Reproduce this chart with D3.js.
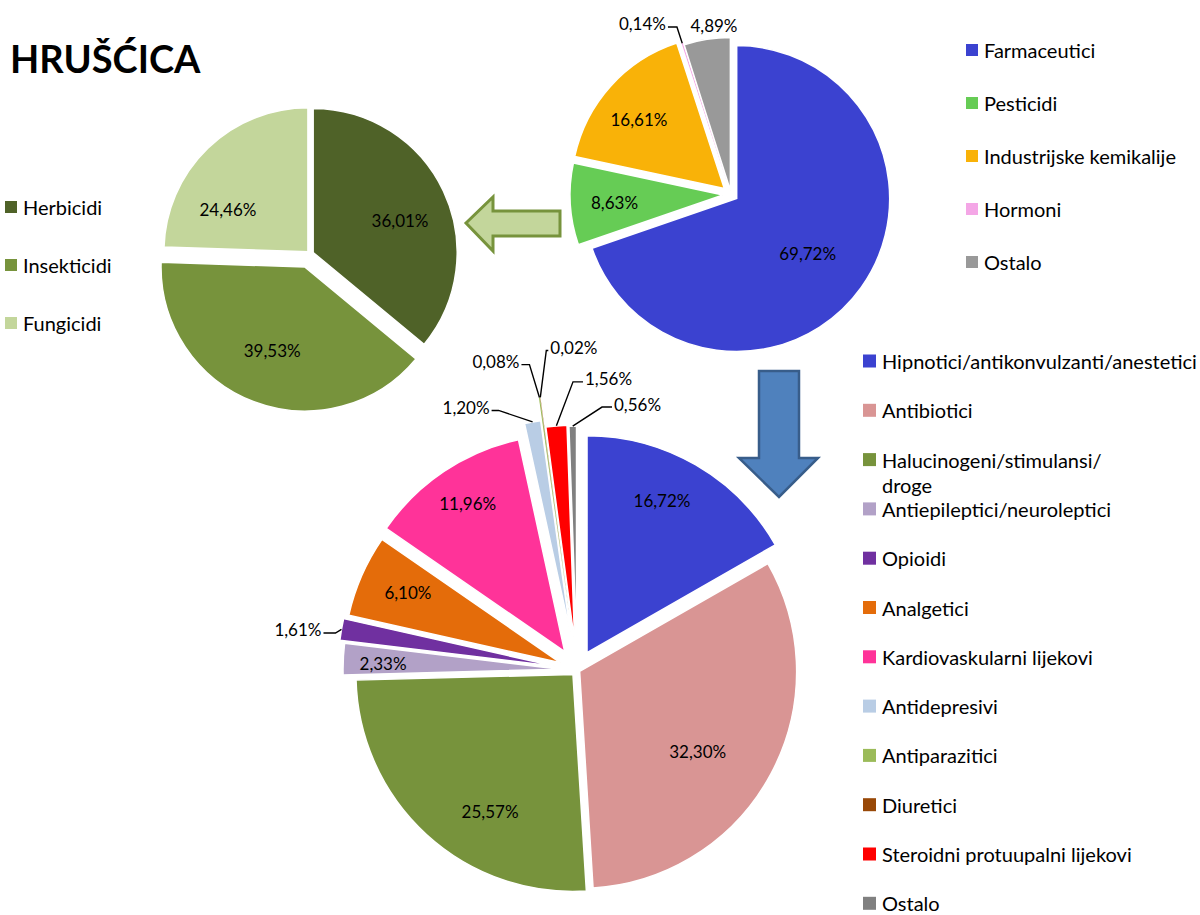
<!DOCTYPE html>
<html><head><meta charset="utf-8">
<script src="https://cdn.jsdelivr.net/npm/d3@7"></script>
<style>
body{margin:0;background:#fff}
svg{display:block}
text{font-family:Lato,"Open Sans",sans-serif;fill:#000}
</style>
</head><body>
<svg id="c" width="1200" height="915"></svg>
<script>
// ---------- DATA ----------
const chartTitle = "HRUŠĆICA";

const topCategories = ["Farmaceutici", "Pesticidi", "Industrijske kemikalije", "Hormoni", "Ostalo"];
const topValues = [69.72, 8.63, 16.61, 0.14, 4.89];
const topColors = ["#3B42D0", "#66CC55", "#F9B208", "#F4A6E6", "#999999"];

const pestCategories = ["Herbicidi", "Insekticidi", "Fungicidi"];
const pestValues = [36.01, 39.53, 24.46];
const pestColors = ["#4F6228", "#77933C", "#C3D69B"];

const pharmaCategories = ["Hipnotici/antikonvulzanti/anestetici", "Antibiotici", "Halucinogeni/stimulansi/\ndroge",
  "Antiepileptici/neuroleptici", "Opioidi", "Analgetici", "Kardiovaskularni lijekovi", "Antidepresivi",
  "Antiparazitici", "Diuretici", "Steroidni protuupalni lijekovi", "Ostalo"];
const pharmaValues = [16.72, 32.30, 25.57, 2.33, 1.61, 6.10, 11.96, 1.20, 0.08, 0.02, 1.56, 0.56];
const pharmaColors = ["#3B42D0", "#D99594", "#77933C", "#B2A1C7", "#7030A0", "#E46C0A", "#FF3399", "#B9CDE5",
  "#9BBB59", "#984807", "#FF0000", "#808080"];

// ---------- LAYOUT ----------
const svg = d3.select("#c");
const fmt = v => d3.format(".2f")(v).replace(".", ",") + "%";
const LABEL_FS = 17, LEGEND_FS = 20;

function drawPie(cfg) {
  const arcs = d3.pie().sort(null).value(d => d)(cfg.values);
  const arc = d3.arc().innerRadius(0).outerRadius(cfg.r);
  const g = svg.append("g").attr("transform", `translate(${cfg.cx},${cfg.cy})`);
  const labelLayer = svg.append("g").attr("transform", `translate(${cfg.cx},${cfg.cy})`);
  arcs.forEach((d, i) => {
    const mid = (d.startAngle + d.endAngle) / 2;
    const e = cfg.explode[i];
    const ox = e * Math.sin(mid), oy = -e * Math.cos(mid);
    g.append("path")
      .attr("transform", `translate(${ox},${oy})`)
      .attr("d", arc(d))
      .attr("fill", cfg.colors[i])
      .attr("stroke", "#fff")
      .attr("stroke-width", cfg.values[i] < 0.5 ? 0 : cfg.strokeW);
    const lab = cfg.labels[i];
    const txt = fmt(cfg.values[i]);
    const lg = labelLayer.append("g").attr("transform", `translate(${ox},${oy})`);
    if (lab.f !== undefined) {
      const a = mid + lab.da * Math.PI / 180, rr = lab.f * cfg.r;
      lg.append("text").attr("x", rr * Math.sin(a)).attr("y", -rr * Math.cos(a))
        .attr("text-anchor", "middle").attr("dominant-baseline", "central")
        .attr("font-size", LABEL_FS).text(txt);
    } else {
      const px = cfg.r * Math.sin(mid), py = -cfg.r * Math.cos(mid);
      if (lab.free) {
        lg.append("text").attr("x", px + lab.dx).attr("y", py + lab.dy)
          .attr("text-anchor", "middle").attr("dominant-baseline", "central")
          .attr("font-size", LABEL_FS).text(txt);
      } else {
        const k1x = px + lab.dx, k1y = py + lab.dy, k2x = k1x + lab.h;
        lg.append("path").attr("d", `M${px},${py}L${k1x},${k1y}L${k2x},${k1y}`)
          .attr("fill", "none").attr("stroke", "#000").attr("stroke-width", 1.4);
        const right = lab.h >= 0;
        lg.append("text").attr("x", k2x + (right ? 2 : -2)).attr("y", k1y - 3)
          .attr("text-anchor", right ? "start" : "end").attr("dominant-baseline", "central")
          .attr("font-size", LABEL_FS).text(txt);
      }
    }
  });
}

function drawLegend(cats, colors, x, y0, step, sq) {
  const yScale = d3.scaleLinear().domain([0, 1]).range([y0, y0 + step]);
  const g = svg.append("g");
  cats.forEach((c, i) => {
    const y = yScale(i);
    g.append("rect").attr("x", x).attr("y", y - sq / 2).attr("width", sq).attr("height", sq).attr("fill", colors[i]);
    const t = g.append("text").attr("x", x + sq + 6).attr("y", y).attr("dominant-baseline", "central")
      .attr("font-size", LEGEND_FS);
    c.split("\n").forEach((line, j) => {
      t.append("tspan").attr("x", x + sq + 6).attr("dy", j === 0 ? 0 : 25).text(line);
    });
  });
}

// Title
svg.append("text").attr("x", 10).attr("y", 73).attr("font-size", 38).attr("font-weight", 700).text(chartTitle);

// Arrows (decorations)
svg.append("path")
  .attr("d", "M466,223 L493,197 L493,211 L560,211 L560,236 L493,236 L493,251 Z")
  .attr("fill", "#C3D69B").attr("stroke", "#77933C").attr("stroke-width", 3).attr("stroke-linejoin", "miter");
svg.append("path")
  .attr("d", "M759,371 L799,371 L799,458 L818,458 L779,497 L739,458 L759,458 Z")
  .attr("fill", "#4F81BD").attr("stroke", "#385D8A").attr("stroke-width", 2.5);

// Top pie (categories)
drawPie({
  cx: 731, cy: 194.5, r: 153, strokeW: 1.5,
  values: topValues, colors: topColors,
  explode: [7, 8, 9, 6, 4],
  labels: [
    {f: 0.587, da: 2.3}, {f: 0.711, da: -0.7}, {f: 0.716, da: -3.2},
    {dx: -5.3, dy: -16.2, h: -9},
    {free: true, dx: 7, dy: -14}
  ]
});

// Left pie (pesticides)
drawPie({
  cx: 310, cy: 254, r: 144, strokeW: 1.5,
  values: pestValues, colors: pestColors,
  explode: [3.5, 14, 3],
  labels: [{f: 0.644, da: 4.7}, {f: 0.62, da: 0.8}, {f: 0.63, da: -17.8}]
});

// Bottom pie (pharmaceuticals)
drawPie({
  cx: 577, cy: 670, r: 217, strokeW: 1.5,
  values: pharmaValues, colors: pharmaColors,
  explode: [20, 3, 6, 17, 22, 18, 22, 35, 58, 58, 28, 27],
  labels: [
    {f: 0.78, da: -3.8}, {f: 0.658, da: 5.9}, {f: 0.74, da: -11.4}, {f: 0.816, da: -0.7},
    {dx: -6, dy: 3.6, h: -12},
    {f: 0.775, da: 1.2}, {f: 0.818, da: 0.7},
    {dx: -34, dy: -11.5, h: -7},
    {dx: -10, dy: -33, h: -8},
    {dx: 6, dy: -47, h: 2},
    {dx: 16.6, dy: -44, h: 10},
    {dx: 29.3, dy: -19, h: 10}
  ]
});

// Legends
drawLegend(topCategories, topColors, 966, 50, 53, 12);
drawLegend(pestCategories, pestColors, 5, 207, 58, 12);
drawLegend(pharmaCategories, pharmaColors, 863, 361, 49.3, 13);
</script>
</body></html>
